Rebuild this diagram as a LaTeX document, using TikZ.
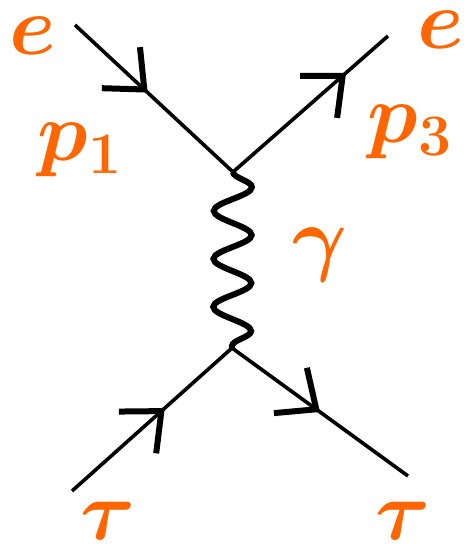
\RequirePackage{fix-cm}
\documentclass[tikz,border=0pt]{standalone}
\usepackage{xcolor}
\usetikzlibrary{arrows.meta,decorations.markings,decorations.pathmorphing}
\definecolor{penOrange}{RGB}{255,102,0}
\tikzset{
  fermion/.style={line width=1.8pt,postaction={decorate},
    decoration={markings,mark=at position #1 with {\arrow{Straight Barb[length=16pt,width=28pt,line width=3pt]}}}},
  photon/.style={line width=3pt,decorate,decoration={snake,segment length=24pt,amplitude=9.5pt}},
  lbl/.style={text=penOrange,font=\fontsize{42}{42}\selectfont\boldmath,inner sep=0pt}
}

\begin{document}
\begin{tikzpicture}[x=0.5pt,y=-0.5pt]
\useasboundingbox (0,0) rectangle (468,549);
\coordinate (eIn) at (75,25);
\coordinate (eOut) at (388,36);
\coordinate (vTop) at (233,172);
\coordinate (vBot) at (232,348);
\coordinate (tauIn) at (72,491);
\coordinate (tauOut) at (408,476);
\draw[fermion=0.46] (eIn) -- (vTop);
\draw[fermion=0.73] (vTop) -- (eOut);
\draw[fermion=0.58] (tauIn) -- (vBot);
\draw[fermion=0.5] (vBot) -- (tauOut);
\draw[photon] (vTop) -- (vBot);
\node[lbl] (eInLbl) at (33,36) {$e$};
\node[lbl] (eOutLbl) at (441,30) {$e$};
\node[lbl] (pOneLbl) at (80,150) {$p_1$};
\node[lbl] (pThreeLbl) at (410,132) {$p_3$};
\node[lbl] (gammaLbl) at (320,255) {$\gamma$};
\node[lbl] (tauInLbl) at (108,521) {$\tau$};
\node[lbl] (tauOutLbl) at (403,521) {$\tau$};
\end{tikzpicture}
\end{document}
